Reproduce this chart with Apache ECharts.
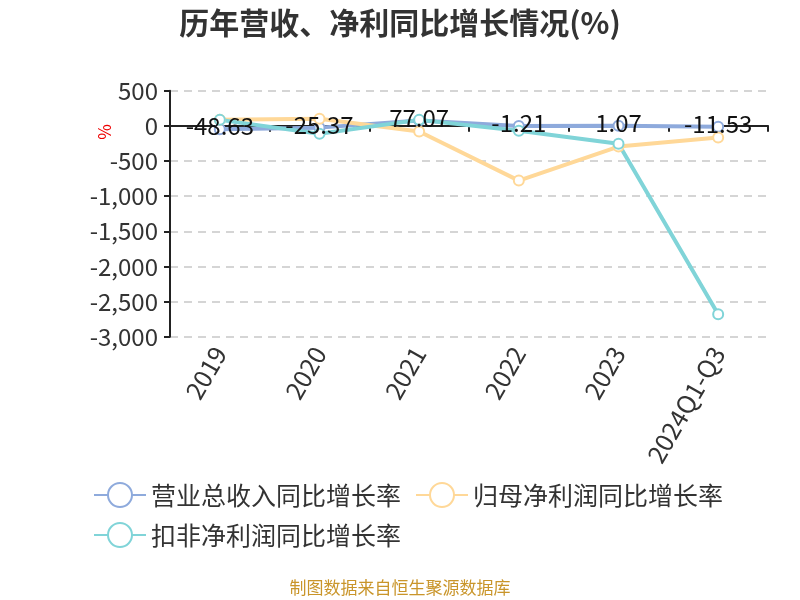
<!DOCTYPE html>
<html><head><meta charset="utf-8">
<script src="https://cdn.jsdelivr.net/npm/echarts@6/dist/echarts.min.js"></script>
<style>html,body{margin:0;padding:0;background:#fff}#c{width:800px;height:600px}</style>
</head><body><div id="c"></div>
<script>
var categories = ['2019','2020','2021','2022','2023','2024Q1-Q3'];
var revenueGrowth = [-48.63, -25.37, 77.07, -1.21, 1.07, -11.53];
var netProfitGrowth = [88, 100, -81, -779, -295, -166];
var deductedProfitGrowth = [85, -114, 85, -70, -254, -2682];
var yTicks = {min: -3000, max: 500, interval: 500};
var FONT = '"Noto Sans CJK SC", "Noto Sans", sans-serif';

var chart = echarts.init(document.getElementById('c'));
function fmt(v){ var s = Math.abs(v).toString().replace(/\B(?=(\d{3})+(?!\d))/g, ','); return (v<0?'-':'')+s; }
function mk(name, data, color, withLabel){
  return {
    name: name, type: 'line', data: data,
    symbol: 'emptyCircle', symbolSize: 10,
    lineStyle: {width: 4, color: color},
    itemStyle: {color: color, borderWidth: 2},
    label: withLabel ? {show: true, position: 'inside', offset: [0, -3], fontSize: 24, color: '#111', fontFamily: FONT} : {show: false}
  };
}
chart.setOption({
  animation: false,
  textStyle: {fontFamily: FONT},
  title: {text: '历年营收、净利同比增长情况(%)', left: 'center', top: 3,
    textStyle: {fontSize: 30, fontWeight: 'bold', color: '#333', fontFamily: FONT}},
  grid: {left: 170, right: 32, top: 90.7, bottom: 263.3, containLabel: false},
  legend: {left: 88, top: 477, itemWidth: 52, itemHeight: 30, itemGap: 14,
    textStyle: {fontSize: 25, color: '#333', fontFamily: FONT},
    data: ['营业总收入同比增长率','归母净利润同比增长率','扣非净利润同比增长率']},
  xAxis: [
    {type: 'category', data: categories, position: 'bottom',
     axisLine: {onZero: true, lineStyle: {color: '#222', width: 2}},
     axisTick: {show: true, length: 6, lineStyle: {color: '#222', width: 2}},
     axisLabel: {show: false}},
    {type: 'category', data: categories, position: 'bottom',
     axisLine: {show: false, onZero: false}, axisTick: {show: false},
     axisLabel: {rotate: 60, fontSize: 25, color: '#333', margin: 12, interval: 0, fontFamily: FONT}}
  ],
  yAxis: {type: 'value', min: yTicks.min, max: yTicks.max, interval: yTicks.interval,
    axisLine: {show: true, lineStyle: {color: '#222', width: 2}},
    axisTick: {show: true, length: 6, lineStyle: {color: '#222', width: 2}},
    axisLabel: {fontSize: 24, color: '#333', margin: 12, formatter: fmt, fontFamily: FONT},
    splitLine: {lineStyle: {type: [8, 6], color: '#c8c8c8', width: 1.5}}},
  graphic: [
    {type: 'text', left: 96, top: 124, rotation: Math.PI/2,
     style: {text: '%', fill: '#e00', fontSize: 17, fontFamily: FONT}},
    {type: 'text', left: 'center', top: 579,
     style: {text: '制图数据来自恒生聚源数据库', fill: '#c9952a', fontSize: 17, fontFamily: FONT}}
  ],
  series: [
    mk('营业总收入同比增长率', revenueGrowth, '#8eaadc', true),
    mk('归母净利润同比增长率', netProfitGrowth, '#ffd898', false),
    mk('扣非净利润同比增长率', deductedProfitGrowth, '#80d4d8', false)
  ]
});
</script></body></html>
